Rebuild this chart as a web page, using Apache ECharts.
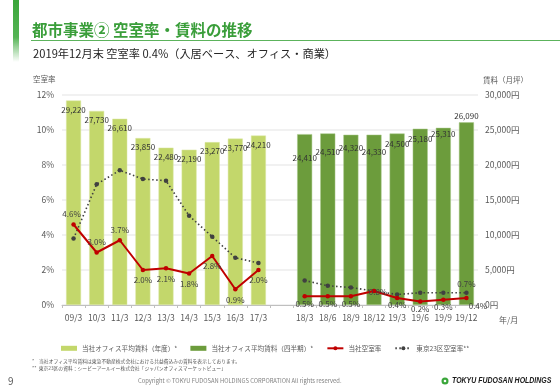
<!DOCTYPE html>
<html><head><meta charset="utf-8">
<script src="https://cdn.jsdelivr.net/npm/echarts@6/dist/echarts.min.js"></script>
<style>html,body{margin:0;padding:0;background:#fff}#c{width:560px;height:388px}</style>
</head><body><div id="c"></div>
<script>
const categories = ['09/3','10/3','11/3','12/3','13/3','14/3','15/3','16/3','17/3','','18/3','18/6','18/9','18/12','19/3','19/6','19/9','19/12'];
const rentAnnual = [29220,27730,26610,23850,22480,22190,23270,23770,24210,null,null,null,null,null,null,null,null,null];
const rentQuarter = [null,null,null,null,null,null,null,null,null,null,24410,24510,24320,24330,24500,25180,25310,26090];
const vacancyCompany = [4.6,3.0,3.7,2.0,2.1,1.8,2.8,0.9,2.0,null,0.5,0.5,0.5,0.8,0.4,0.2,0.3,0.4];
const vacancyTokyo = [3.8,6.9,7.7,7.2,7.1,5.1,3.9,2.7,2.4,null,1.4,1.1,1.0,0.8,0.6,0.7,0.7,0.7];
const leftTicks = [0,2,4,6,8,10,12];
const rightTicks = [0,5000,10000,15000,20000,25000,30000];

// label placement styling (not data)
const compLabelPos = ['top','top','top','bottom','bottom','bottom','bottom','bottom','bottom',null,'bottom','bottom','bottom','inside','bottom','bottom','bottom','right'];
const quarterLabelDy = [20,15,9,13,6,6,2,null];

const FONT = '"Noto Sans CJK JP", "Noto Sans", sans-serif';
const chart = echarts.init(document.getElementById('c'), null, {renderer:'canvas'});
const fmtYen = v => v.toLocaleString('en-US') + '円';

chart.setOption({
  animation:false,
  textStyle:{fontFamily:FONT},
  grid:{left:62,right:82,top:95,bottom:83},
  legend:{
    left:56, top:340, itemGap:13, itemWidth:16, itemHeight:5,
    itemStyle:{borderWidth:0},
    textStyle:{fontSize:6.6,color:'#595959',fontFamily:FONT},
    data:[
      {name:'当社オフィス平均賃料（年度）*', icon:'rect'},
      {name:'当社オフィス平均賃料（四半期）*', icon:'rect'},
      {name:'当社空室率'},
      {name:'東京23区空室率**'}
    ]
  },
  xAxis:{
    type:'category', data:categories, boundaryGap:true,
    axisLine:{lineStyle:{color:'#bfbfbf'}},
    axisTick:{show:true, length:3, lineStyle:{color:'#bfbfbf'}},
    axisLabel:{color:'#595959',fontSize:8.5,margin:9,interval:0}
  },
  yAxis:[
    {type:'value',min:0,max:12,interval:2,
     axisLabel:{formatter:'{value}%',color:'#595959',fontSize:8.5,margin:8},
     axisLine:{show:false},axisTick:{show:false},
     splitLine:{lineStyle:{color:'#ececec',width:1.5}}},
    {type:'value',min:0,max:30000,interval:5000,position:'right',
     axisLabel:{formatter:fmtYen,color:'#595959',fontSize:8.5,margin:7},
     axisLine:{show:false},axisTick:{show:false},splitLine:{show:false}}
  ],
  series:[
    {name:'当社オフィス平均賃料（年度）*', type:'bar', yAxisIndex:1, stack:'rent', barWidth:15,
     data:rentAnnual, itemStyle:{color:'#c3d76b', borderColor:'#dde8a8', borderWidth:0.5},
     label:{show:true, position:'insideTop', distance:5, color:'#333', fontSize:8,
            formatter:p=>p.value==null?'':p.value.toLocaleString('en-US')}},
    {name:'当社オフィス平均賃料（四半期）*', type:'bar', yAxisIndex:1, stack:'rent', barWidth:16,
     data:rentQuarter.map((v,i)=>{
       if(v==null) return v;
       const k=i-10; const dy=quarterLabelDy[k];
       if(dy==null) return {value:v,label:{position:'top',distance:2}};
       return {value:v,label:{position:'insideTop',distance:0,offset:[0,dy]}};
     }),
     itemStyle:{color:'#6c9c3c', borderColor:'#a9c98a', borderWidth:0.5},
     label:{show:true, color:'#333', fontSize:8,
            formatter:p=>p.value==null?'':p.value.toLocaleString('en-US')}},
    {name:'当社空室率', type:'line', yAxisIndex:0, data:vacancyCompany.map((v,i)=>{
       if(v==null) return v;
       const pos=compLabelPos[i];
       const lab={position:pos, distance:4};
       if(i>=10 && pos==='bottom') lab.distance=1;
       if(pos==='inside') lab.offset=[4,1];
       if(pos==='right') lab.offset=[-4,8];
       if(i===0) lab.offset=[-2,0];
       return {value:v,label:lab};
     }),
     connectNulls:false, symbol:'circle', symbolSize:4.5,
     lineStyle:{color:'#c00000',width:2}, itemStyle:{color:'#c00000'},
     label:{show:true,color:'#404040',fontSize:8,formatter:p=>p.value.toFixed(1)+'%'},
     z:5},
    {name:'東京23区空室率**', type:'line', yAxisIndex:0, data:vacancyTokyo.map((v,i)=>{
       if(v==null) return v;
       if(i===vacancyTokyo.length-1) return {value:v,label:{show:true,position:'top',distance:3,color:'#404040',fontSize:8,formatter:p=>p.value.toFixed(1)+'%'}};
       return v;
     }),
     connectNulls:false, symbol:'circle', symbolSize:4.5,
     lineStyle:{color:'#404040',width:1.6,type:[1.5,2.5]}, itemStyle:{color:'#404040'},
     z:4}
  ],
  graphic:[
    {type:'rect',shape:{x:13,y:0,width:6,height:62},
     style:{fill:new echarts.graphic.LinearGradient(0,0,0,1,[{offset:0,color:'#3aa63a'},{offset:0.6,color:'#55b455'},{offset:1,color:'rgba(90,180,90,0)'}])}},
    {type:'text',left:32,top:22,style:{text:'都市事業② 空室率・賃料の推移',fill:'#3a9e3a',font:'bold 15.5px '+FONT}},
    {type:'rect',shape:{x:31,y:40,width:529,height:1},style:{fill:'#5cb35c'}},
    {type:'text',left:33,top:48,style:{text:'2019年12月末 空室率 0.4%（入居ベース、オフィス・商業）',fill:'#262626',font:'11.2px '+FONT}},
    {type:'text',left:33,top:75,style:{text:'空室率',fill:'#595959',font:'7.5px '+FONT}},
    {type:'text',left:483,top:76,style:{text:'賃料（月坪）',fill:'#595959',font:'7.5px '+FONT}},
    {type:'text',left:499,top:316,style:{text:'年/月',fill:'#595959',font:'8px '+FONT}},
    {type:'text',left:32,top:359,style:{text:'*　当社オフィス平均賃料は東急不動産株式会社における共益費込みの賃料を表示しております。',fill:'#595959',font:'4.8px '+FONT}},
    {type:'text',left:32,top:366,style:{text:'**  東京23区の資料：シービーアールイー株式会社「ジャパンオフィスマーケットビュー」',fill:'#595959',font:'4.8px '+FONT}},
    {type:'text',left:8,top:376,style:{text:'9',fill:'#595959',font:'10px '+FONT}},
    {type:'text',left:138,top:378,style:{text:'Copyright © TOKYU FUDOSAN HOLDINGS CORPORATION All rights reserved.',fill:'#7f7f7f',font:'5.8px '+FONT}},
    {type:'circle',shape:{cx:445,cy:381,r:3.5},style:{fill:'#3aa63a'}},
    {type:'circle',shape:{cx:445,cy:381,r:1.3},style:{fill:'#fff'}},
    {type:'text',x:452,y:376,scaleX:0.82,style:{text:'TOKYU FUDOSAN HOLDINGS',fill:'#1a1a1a',font:'italic bold 8.5px "Liberation Sans", Arial, sans-serif'}}
  ]
});
</script></body></html>
